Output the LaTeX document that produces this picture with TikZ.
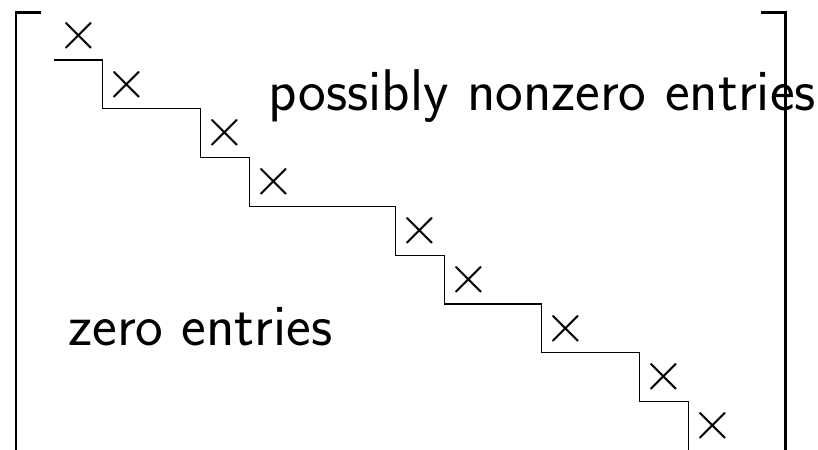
\documentclass[tikz,border=0pt]{standalone}
\usepackage{fix-cm}

\newcommand\mycross[3]{\draw (#1,#2) node[inner sep=0](#3){$\times$} ; }

\begin{document}
\begin{tikzpicture}[font=\sffamily\fontsize{32}{38}\selectfont]
	\useasboundingbox (-1.107,1.23) rectangle (15.66,-7.99);

	% brackets
	\draw [line width=1.6pt] (-0.27,0.98) -- (-0.78,0.98) -- (-0.78,-8.02) -- (-0.27,-8.02);
	\draw [line width=1.6pt] (14.49,0.98) -- (15.0,0.98) -- (15.0,-8.02) -- (14.49,-8.02);

	% staircase
	\draw [line width=0.7pt] (0,0) -- (1,0) -- (1,-1) -- (3,-1) -- (3,-2) -- (4,-2) -- (4,-3)
		-- (7,-3) -- (7,-4) -- (8,-4) -- (8,-5) -- (10,-5) -- (10,-6) -- (12,-6)
		-- (12,-7) -- (13,-7) -- (13,-8);

	% crosses on the diagonal
	\mycross{0.5}{0.5}{c1}
	\mycross{1.5}{-0.5}{c2}
	\mycross{3.5}{-1.5}{c3}
	\mycross{4.5}{-2.5}{c4}
	\mycross{7.5}{-3.5}{c5}
	\mycross{8.5}{-4.5}{c6}
	\mycross{10.5}{-5.5}{c7}
	\mycross{12.5}{-6.5}{c8}
	\mycross{13.5}{-7.5}{c9}

	% labels
	\draw (4.39,-1.03) node[anchor=base west, inner sep=0, font=\sffamily\fontsize{34.3}{40}\selectfont](upper){possibly nonzero entries} ;
	\draw (0.29,-5.86) node[anchor=base west, inner sep=0, font=\sffamily\fontsize{34.3}{40}\selectfont](lower){zero entries} ;
\end{tikzpicture}
\end{document}
